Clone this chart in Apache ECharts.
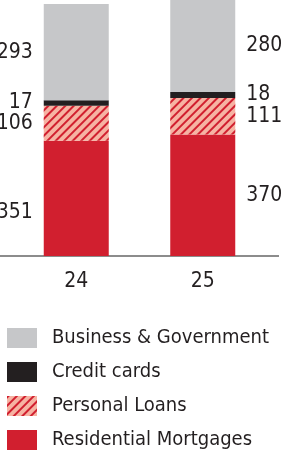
<!DOCTYPE html>
<html>
<head>
<meta charset="utf-8">
<script src="https://cdn.jsdelivr.net/npm/echarts@6/dist/echarts.min.js"></script>
<style>
html, body { margin: 0; padding: 0; background: #fff; }
#main { width: 282px; height: 455px; }
</style>
</head>
<body>
<div id="main"></div>
<script>
var years = ['24', '25'];
var mortgages = [351, 370];
var personalLoans = [106, 111];
var creditCards = [17, 18];
var business = [293, 280];

var font = '"Liberation Sans Narrow", "DejaVu Sans Condensed", sans-serif';
var txtColor = '#231f20';

// labels: 24 on the left of the bar, 25 on the right
function makeData(arr, extra) {
    var out = [];
    for (let i = 0; i < arr.length; i++) {
        var lab = { position: i == 0 ? 'left' : 'right' };
        if (extra && extra[i]) lab.offset = extra[i];
        out.push({ value: arr[i], label: lab });
    }
    return out;
}

var chart = echarts.init(document.getElementById('main'));

var labelStyle = {
    show: true,
    distance: 11,
    color: txtColor,
    fontFamily: font,
    fontSize: 21
};

var option = {
    backgroundColor: '#FFFFFF',
    animation: false,
    grid: {
        left: 13,
        right: 16,
        top: 0,
        height: 256
    },
    legend: {
        orient: 'vertical',
        left: 7,
        top: 328,
        height: 130,
        padding: 0,
        itemWidth: 30,
        itemHeight: 20,
        itemGap: 14,
        icon: 'rect',
        selectedMode: false,
        textStyle: {
            color: txtColor,
            fontFamily: font,
            fontSize: 20,
            padding: [0, 0, 0, 10]
        },
        data: ['Business & Government', 'Credit cards', 'Personal Loans', 'Residential Mortgages']
    },
    xAxis: {
        type: 'category',
        data: years,
        axisLine: { show: false },
        axisTick: { show: false },
        axisLabel: {
            margin: 15,
            color: txtColor,
            fontFamily: font,
            fontSize: 21
        }
    },
    yAxis: {
        type: 'value',
        min: 0,
        max: 779,
        show: false,
        splitLine: { show: false }
    },
    series: [
        {
            name: 'Residential Mortgages',
            type: 'bar',
            stack: 'total',
            barWidth: 65,
            itemStyle: { color: '#d11f2f' },
            label: labelStyle,
            data: makeData(mortgages, [[0, 14]])
        },
        {
            name: 'Personal Loans',
            type: 'bar',
            stack: 'total',
            itemStyle: {
                color: '#f6b3a3',
                decal: {
                    symbol: 'rect',
                    symbolSize: 1,
                    color: '#d11f2f',
                    dashArrayX: [1, 0],
                    dashArrayY: [2, 4],
                    rotation: -Math.PI / 4
                }
            },
            label: labelStyle,
            data: makeData(personalLoans)
        },
        {
            name: 'Credit cards',
            type: 'bar',
            stack: 'total',
            itemStyle: { color: '#231f20' },
            label: labelStyle,
            data: makeData(creditCards)
        },
        {
            name: 'Business & Government',
            type: 'bar',
            stack: 'total',
            itemStyle: { color: '#c6c7c9' },
            label: labelStyle,
            data: makeData(business)
        }
    ],
    graphic: [
        {
            type: 'line',
            shape: { x1: 0, y1: 256, x2: 279, y2: 256 },
            style: { stroke: '#8c8c8c', lineWidth: 2 }
        }
    ]
};

chart.setOption(option);
</script>
</body>
</html>
